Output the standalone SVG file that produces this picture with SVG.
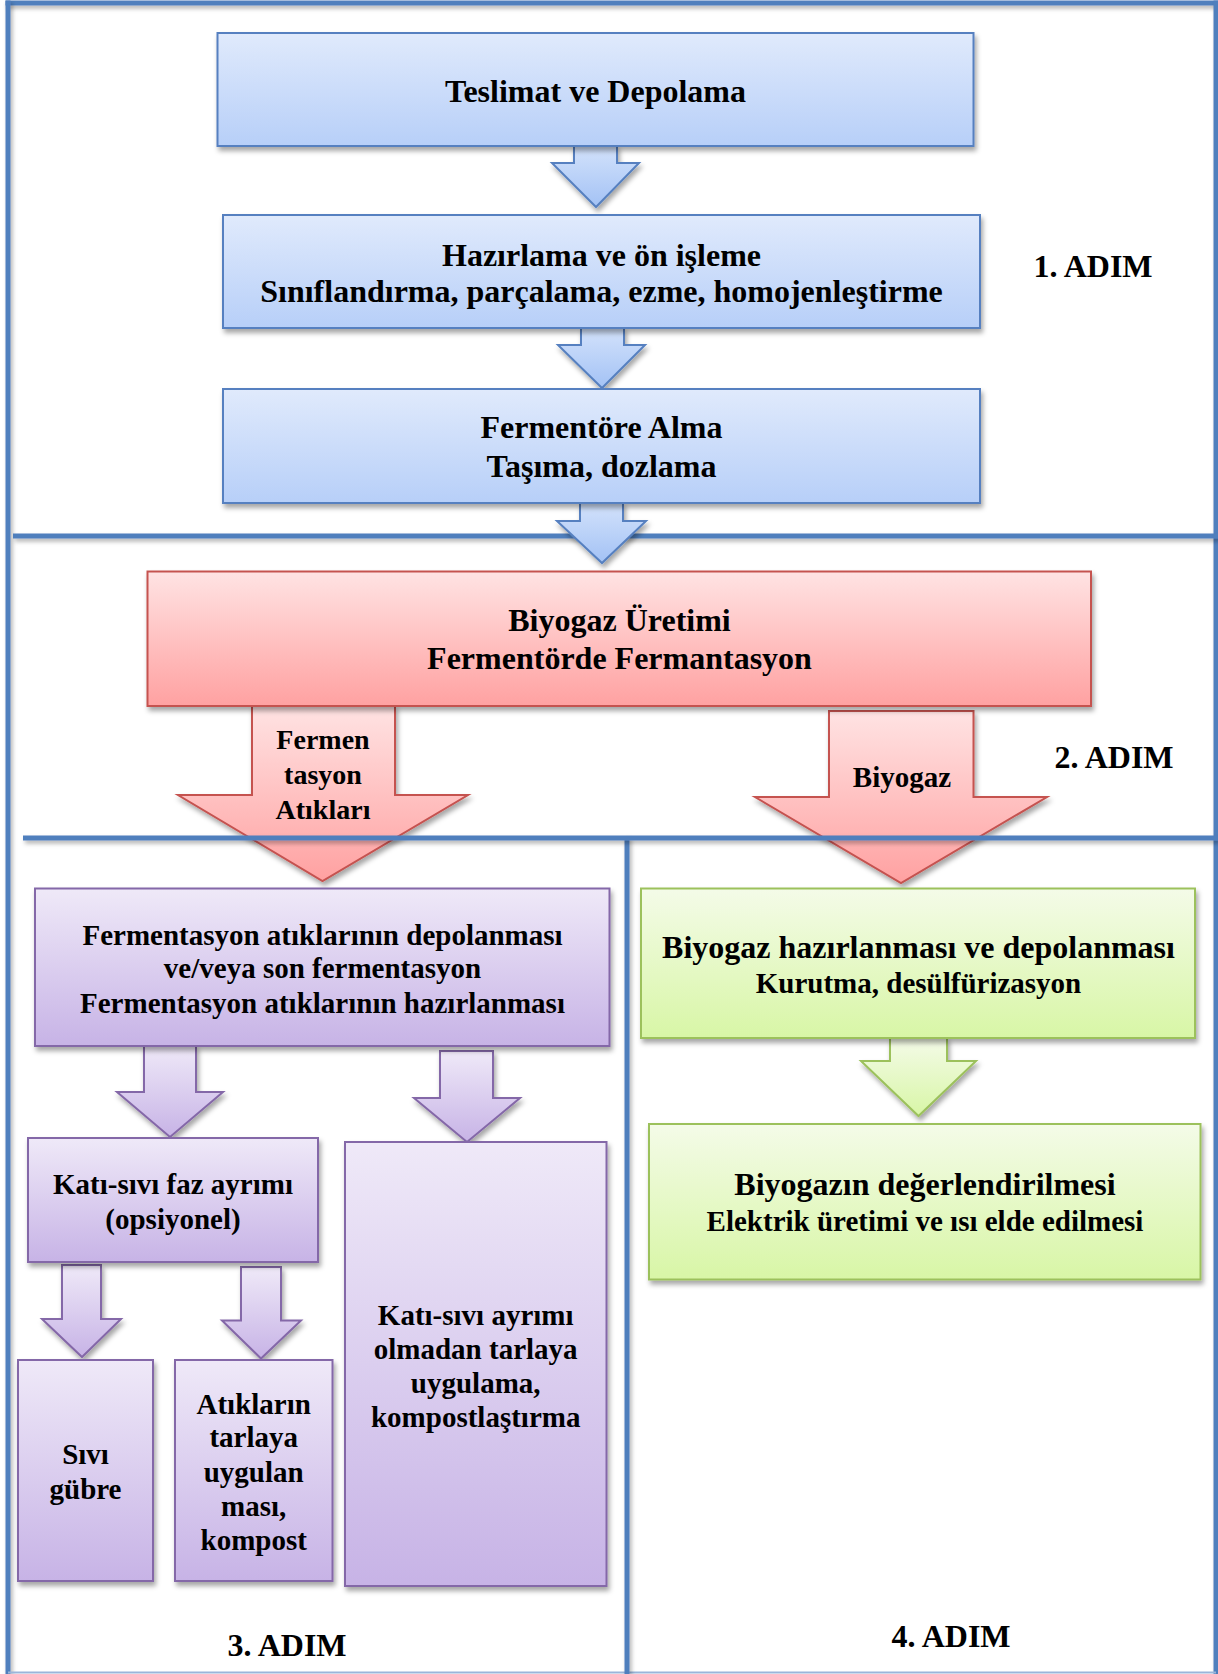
<svg xmlns="http://www.w3.org/2000/svg" width="1218" height="1674" viewBox="0 0 1218 1674">
<defs>
<linearGradient id="gBlue" x1="0" y1="0" x2="0" y2="1"><stop offset="0" stop-color="#e0eafc"/><stop offset="1" stop-color="#b7cff8"/></linearGradient>
<linearGradient id="gBlueA" x1="0" y1="0" x2="0" y2="1"><stop offset="0" stop-color="#d3e2fb"/><stop offset="1" stop-color="#a3c2f5"/></linearGradient>
<linearGradient id="gRed" x1="0" y1="0" x2="0" y2="1"><stop offset="0" stop-color="#ffe3e3"/><stop offset="1" stop-color="#ffa1a1"/></linearGradient>
<linearGradient id="gPur" x1="0" y1="0" x2="0" y2="1"><stop offset="0" stop-color="#efe9f8"/><stop offset="1" stop-color="#c7b3e6"/></linearGradient>
<linearGradient id="gGrn" x1="0" y1="0" x2="0" y2="1"><stop offset="0" stop-color="#f4fbe8"/><stop offset="1" stop-color="#d8f6a6"/></linearGradient>
<filter id="sh" x="-10%" y="-10%" width="130%" height="140%"><feDropShadow dx="2" dy="4" stdDeviation="2.5" flood-color="#000" flood-opacity="0.35"/></filter>
<filter id="shl" filterUnits="userSpaceOnUse" x="0" y="0" width="1218" height="1674"><feDropShadow dx="2" dy="3" stdDeviation="2" flood-color="#000" flood-opacity="0.3"/></filter>
<style>
text{font-family:"Liberation Serif","Times New Roman",serif;font-weight:bold;fill:#000;text-anchor:middle}
.t32{font-size:32px}
.t29{font-size:29px}
.t28{font-size:28px}
.blue{fill:url(#gBlue);stroke:#5680c0;stroke-width:2;filter:url(#sh)}
.blueA{fill:url(#gBlueA);stroke:#5680c0;stroke-width:2;filter:url(#sh)}
.red{fill:url(#gRed);stroke:#c55250;stroke-width:2;filter:url(#sh)}
.pur{fill:url(#gPur);stroke:#8467a8;stroke-width:2;filter:url(#sh)}
.grn{fill:url(#gGrn);stroke:#9cc15c;stroke-width:2;filter:url(#sh)}
.fr{fill:#4f7fbd;filter:url(#shl)}
</style>
</defs>
<rect width="1218" height="1674" fill="#fff"/>
<g id="frame">
<rect class="fr" x="5.5" y="0.5" width="1213" height="5"/>
<rect class="fr" x="5.5" y="0.5" width="5" height="1674"/>
<rect class="fr" x="1213.5" y="0.5" width="5" height="1674"/>
<rect x="8" y="1671.5" width="1208" height="2" fill="#9ab5da"/>
<rect class="fr" x="13" y="533.5" width="1205" height="5"/>
<rect class="fr" x="624.5" y="836" width="5" height="838"/>
</g>
<g id="labels">
<text class="t32" x="1093" y="277">1. ADIM</text>
<text class="t32" x="1114" y="768">2. ADIM</text>
<text class="t32" x="287" y="1656">3. ADIM</text>
<text class="t32" x="951" y="1647">4. ADIM</text>
</g>
<g id="connectors">
<polygon class="blueA" points="574,146 574,163 552,163 596,207 639,163 617,163 617,146"/>
<polygon class="blueA" points="581,328 581,345 558,345 602,388 645,345 624,345 624,328"/>
<polygon class="blueA" points="580,503 580,521 557,521 602,563 646,521 623,521 623,503"/>
<g id="arrow-atik">
<polygon class="red" points="252,706 252,795 178,795 322.5,881 468,795 395,795 395,706"/>
<text class="t28" x="323" y="749">Fermen</text>
<text class="t28" x="323" y="784">tasyon</text>
<text class="t28" x="323" y="819">Atıkları</text>
</g>
<g id="arrow-biyogaz">
<polygon class="red" points="829,711 829,797 755,797 901,883 1047,797 973.5,797 973.5,711"/>
<text class="t29" x="902" y="787">Biyogaz</text>
</g>
<polygon class="pur" points="144,1046 144,1092 117,1092 170,1137 223,1092 196,1092 196,1046"/>
<polygon class="pur" points="440,1051 440,1098 414,1098 467,1142 520,1098 493,1098 493,1051"/>
<polygon class="pur" points="62,1265 62,1319 42,1319 82,1357 121,1319 101,1319 101,1265"/>
<polygon class="pur" points="241,1267 241,1320.5 222,1320.5 261,1358.5 301,1320.5 281,1320.5 281,1267"/>
<polygon class="grn" points="890,1038 890,1061 861,1061 918.5,1116 976,1061 947,1061 947,1038"/>
</g>
<g id="divider2">
<rect class="fr" x="23" y="835.5" width="1195" height="5"/>
</g>
<g id="n-teslimat">
<rect class="blue" x="217.5" y="33" width="756" height="113"/>
<text class="t32" x="595.5" y="102">Teslimat ve Depolama</text>
</g>
<g id="n-hazirlama">
<rect class="blue" x="223" y="215" width="757" height="113"/>
<text class="t32" x="601.5" y="265.5">Hazırlama ve ön işleme</text>
<text class="t32" x="601.5" y="302">Sınıflandırma, parçalama, ezme, homojenleştirme</text>
</g>
<g id="n-fermentore">
<rect class="blue" x="223" y="389" width="757" height="114"/>
<text class="t32" x="601.5" y="438">Fermentöre Alma</text>
<text class="t32" x="601.5" y="476.5">Taşıma, dozlama</text>
</g>
<g id="n-biyogaz-uretimi">
<rect class="red" x="147.5" y="571.5" width="943.5" height="134.5"/>
<text class="t32" x="619.5" y="631">Biyogaz Üretimi</text>
<text class="t32" x="619.5" y="669">Fermentörde Fermantasyon</text>
</g>
<g id="n-atik-depolama">
<rect class="pur" x="35" y="888.5" width="574.5" height="157.5"/>
<text class="t29" x="322.5" y="945">Fermentasyon atıklarının depolanması</text>
<text class="t29" x="322.5" y="978">ve/veya son fermentasyon</text>
<text class="t29" x="322.5" y="1013">Fermentasyon atıklarının hazırlanması</text>
</g>
<g id="n-faz-ayrimi">
<rect class="pur" x="28" y="1138" width="290" height="124"/>
<text class="t29" x="173" y="1194">Katı-sıvı faz ayrımı</text>
<text class="t29" x="173" y="1229">(opsiyonel)</text>
</g>
<g id="n-ayrimsiz">
<rect class="pur" x="345" y="1142" width="261.5" height="444"/>
<text class="t29" x="475.7" y="1324.5">Katı-sıvı ayrımı</text>
<text class="t29" x="475.7" y="1358.5">olmadan tarlaya</text>
<text class="t29" x="475.7" y="1393">uygulama,</text>
<text class="t29" x="475.7" y="1427">kompostlaştırma</text>
</g>
<g id="n-sivi-gubre">
<rect class="pur" x="18" y="1360" width="135" height="221"/>
<text class="t29" x="85.5" y="1464">Sıvı</text>
<text class="t29" x="85.5" y="1499">gübre</text>
</g>
<g id="n-atiklarin">
<rect class="pur" x="175" y="1360" width="157.5" height="221"/>
<text class="t29" x="253.7" y="1414">Atıkların</text>
<text class="t29" x="253.7" y="1447">tarlaya</text>
<text class="t29" x="253.7" y="1481.5">uygulan</text>
<text class="t29" x="253.7" y="1515.5">ması,</text>
<text class="t29" x="253.7" y="1549.5">kompost</text>
</g>
<g id="n-biyogaz-hazirlama">
<rect class="grn" x="641" y="888.5" width="554" height="149.5"/>
<text class="t32" x="918.5" y="957.5">Biyogaz hazırlanması ve depolanması</text>
<text class="t29" x="918.5" y="992.5">Kurutma, desülfürizasyon</text>
</g>
<g id="n-degerlendirme">
<rect class="grn" x="649" y="1124" width="551.5" height="155.5"/>
<text class="t32" x="925" y="1195">Biyogazın değerlendirilmesi</text>
<text class="t29" x="925" y="1231">Elektrik üretimi ve ısı elde edilmesi</text>
</g>
</svg>
